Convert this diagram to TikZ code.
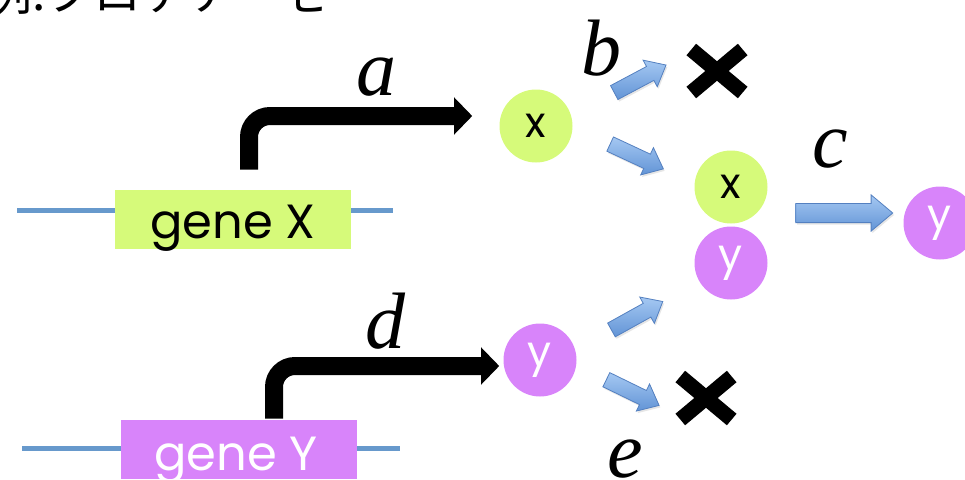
\documentclass[tikz,border=0pt]{standalone}
\usepackage{fontspec}
\usetikzlibrary{arrows.meta,positioning,shapes.arrows,shadows,calc}
\newfontfamily\labelfont{Poppins}
\newfontfamily\varfont{Liberation Serif}
\newfontfamily\jpfont{Noto Sans CJK JP}
\definecolor{dnablue}{RGB}{103,153,204}
\definecolor{xgreen}{RGB}{214,250,122}
\definecolor{ypurple}{RGB}{216,132,250}
\definecolor{arrowtop}{RGB}{165,200,242}
\definecolor{arrowbot}{RGB}{98,148,214}
\definecolor{arrowedge}{RGB}{84,128,192}

\begin{document}
\begin{tikzpicture}[x=0.75pt,y=-0.75pt,
  dna/.style={dnablue,line width=3.75pt},
  genebox/.style={minimum width=177pt,minimum height=44.25pt,inner sep=0pt},
  genelabel/.style={font=\labelfont\fontsize{36}{40}\selectfont,inner sep=0pt,anchor=base},
  mol/.style={circle,minimum size=54.75pt,inner sep=0pt,font=\labelfont\fontsize{32}{36}\selectfont},
  rate/.style={font=\varfont\itshape\fontsize{60}{62}\selectfont,inner sep=0pt,anchor=base},
  promoter/.style={line width=13.5pt,rounded corners=15.75pt,-{Triangle[length=13.5pt,width=27pt]}},
  blockarrow/.style={single arrow,draw=arrowedge,line width=0.6pt,top color=arrowtop,bottom color=arrowbot,
    minimum height=44pt,inner xsep=0pt,inner ysep=5.6pt,single arrow head extend=5.4pt,single arrow tip angle=80,
    drop shadow={opacity=0.2,shadow xshift=1pt,shadow yshift=-1.5pt}},
  killline/.style={line width=11.25pt}
]
  \useasboundingbox (0,0) rectangle (965,479);

  % title, cut off at the top
  \node[font=\jpfont\fontsize{36}{40}\selectfont,inner sep=0pt,anchor=base west] (title) at (-16,10) {例:プロテアーゼ};

  % --- genes on the DNA strand
  \draw[dna] (17,210) -- (393,210);
  \draw[dna] (22,448) -- (400,448);
  \node[genebox,fill=xgreen] (geneX) at (233,219.5) {};
  \node[genebox,fill=ypurple] (geneY) at (239,449.5) {};
  \node[genelabel] (labelX) at (233,238) {gene X};
  \node[genelabel,white] (labelY) at (236,470) {gene Y};

  % --- molecules
  \node[mol,fill=xgreen] (molX) at (536,126) {x};
  \node[mol,fill=ypurple,text=white] (molY) at (540,360) {y};
  \node[mol,fill=xgreen] (cpxX) at (731,187) {x};
  \node[mol,fill=ypurple,text=white] (cpxY) at (731,263) {y};
  \node[mol,fill=ypurple,text=white] (prodY) at (940,223) {y};

  % --- transcription / translation
  \draw[promoter] ([shift={(16,-20)}]geneX.north) |- ([shift={(-27,-10)}]molX.west);
  \draw[promoter] ([shift={(35,-1)}]geneY.north) |- ([shift={(-4,6)}]molY.west);

  % --- reactions (block arrows)
  \node[blockarrow,rotate=28] (degX) at (636,81) {};
  \node[blockarrow,rotate=-25] (bindX) at (632.5,154.5) {};
  \node[blockarrow,rotate=29] (bindY) at (633,318) {};
  \node[blockarrow,rotate=-26] (degY) at (628.5,390.5) {};
  \node[blockarrow,minimum height=72.75pt,inner ysep=6.9pt,single arrow head extend=6.4pt] (cut) at (838.5,213) {};

  % --- degradation marks
  \coordinate (killX) at (717,71);
  \coordinate (killY) at (706,398);
  \foreach \k in {killX,killY} {
    \draw[killline] ([shift={(-25.7,-21.5)}]\k) -- ([shift={(25.7,21.5)}]\k);
    \draw[killline] ([shift={(-25.7,21.5)}]\k) -- ([shift={(25.7,-21.5)}]\k);
  }

  % --- rate labels
  \node[rate] (rateA) at (376,95) {a};
  \node[rate] (rateB) at (601,75) {b};
  \node[rate] (rateC) at (830,167) {c};
  \node[rate] (rateD) at (385,348) {d};
  \node[rate] (rateE) at (625,477) {e};
\end{tikzpicture}
\end{document}
